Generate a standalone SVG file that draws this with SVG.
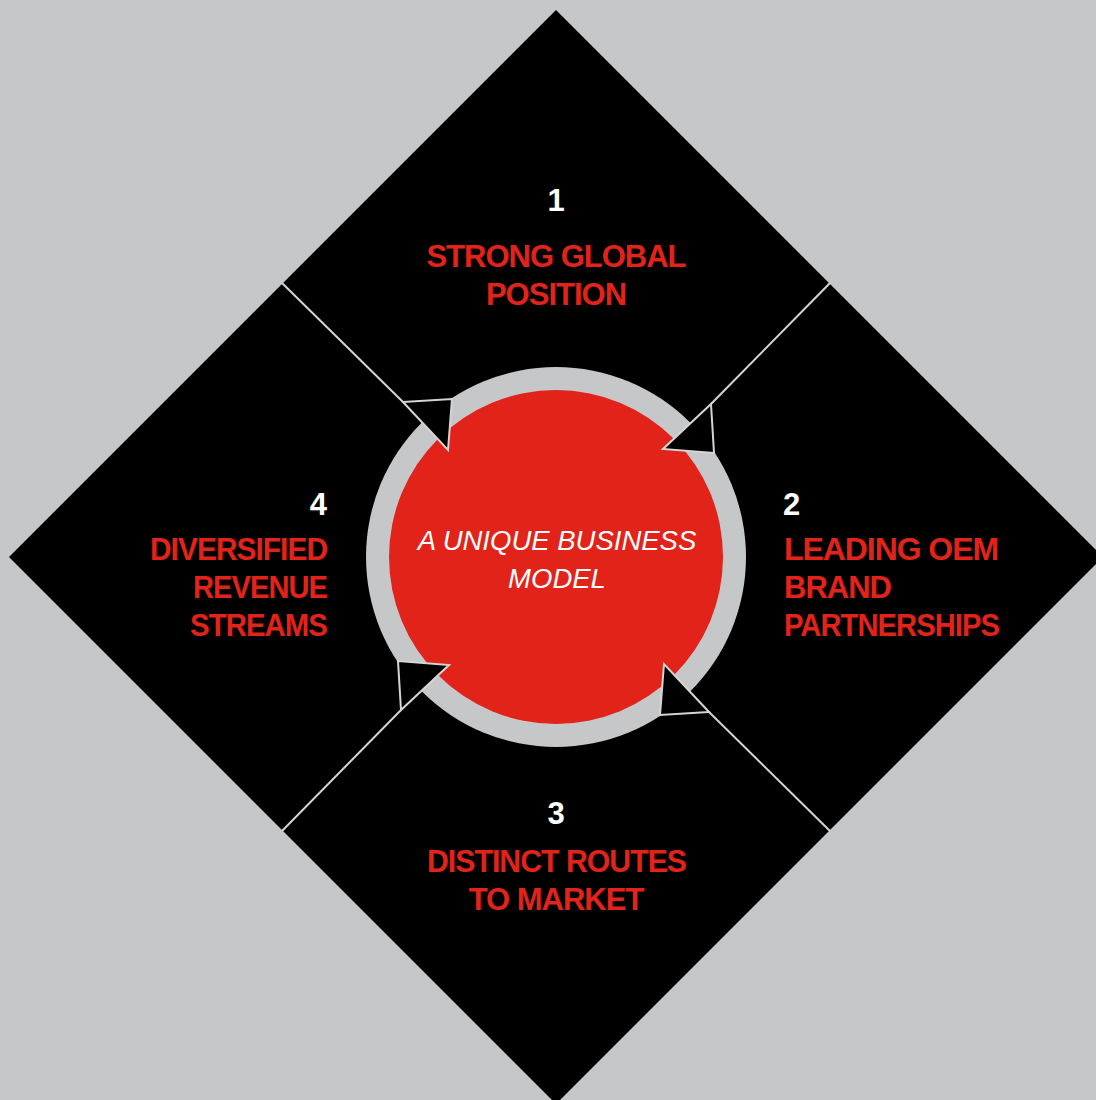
<svg xmlns="http://www.w3.org/2000/svg" width="1096" height="1100" viewBox="0 0 1096 1100">
<style>
.num{font-family:"Liberation Sans",Arial,sans-serif;font-weight:bold;font-size:31px;fill:#ffffff}
.lbl{font-family:"Liberation Sans",Arial,sans-serif;font-weight:bold;font-size:31px;fill:#e2231a;letter-spacing:-1px}
.ctr{font-family:"Liberation Sans",Arial,sans-serif;font-style:italic;font-size:27.5px;fill:#ffffff}
.div{stroke:#d4d5d6;stroke-width:2;fill:none}
.ah{fill:#000;stroke:#d4d5d6;stroke-width:2;stroke-linejoin:miter}
</style>
<defs>
<polygon id="arrowhead" class="ah" points="403,402 452,399 448,450"/>
</defs>
<rect width="1096" height="1100" fill="#c6c7c9"/>
<g id="diamond">
<polygon points="556,10 1103,557 556,1104 9,557" fill="#000"/>
</g>
<g id="hub">
<circle cx="556" cy="557" r="190" fill="#c6c7c9"/>
<circle cx="556" cy="557" r="167" fill="#e2231a"/>
<text class="ctr" x="557" y="550" text-anchor="middle">A UNIQUE BUSINESS</text>
<text class="ctr" x="557" y="588" text-anchor="middle">MODEL</text>
</g>
<g id="connectors">
<line class="div" x1="282" y1="283" x2="403" y2="402"/>
<line class="div" x1="282" y1="283" x2="403" y2="402" transform="rotate(90 556 557)"/>
<line class="div" x1="282" y1="283" x2="403" y2="402" transform="rotate(180 556 557)"/>
<line class="div" x1="282" y1="283" x2="403" y2="402" transform="rotate(270 556 557)"/>
<use href="#arrowhead"/>
<use href="#arrowhead" transform="rotate(90 556 557)"/>
<use href="#arrowhead" transform="rotate(180 556 557)"/>
<use href="#arrowhead" transform="rotate(270 556 557)"/>
</g>
<g id="node1">
<text class="num" x="556" y="211" text-anchor="middle">1</text>
<text class="lbl" x="556" y="267" text-anchor="middle">STRONG GLOBAL</text>
<text class="lbl" x="556" y="305" text-anchor="middle">POSITION</text>
</g>
<g id="node2">
<text class="num" x="783" y="515">2</text>
<text class="lbl" x="784" y="560" textLength="214" lengthAdjust="spacingAndGlyphs">LEADING OEM</text>
<text class="lbl" x="784" y="598">BRAND</text>
<text class="lbl" x="784" y="636" textLength="215" lengthAdjust="spacingAndGlyphs">PARTNERSHIPS</text>
</g>
<g id="node3">
<text class="num" x="556" y="824" text-anchor="middle">3</text>
<text class="lbl" x="427" y="872" textLength="259" lengthAdjust="spacingAndGlyphs">DISTINCT ROUTES</text>
<text class="lbl" x="556" y="910" text-anchor="middle">TO MARKET</text>
</g>
<g id="node4">
<text class="num" x="327" y="515" text-anchor="end">4</text>
<text class="lbl" x="150" y="560" textLength="177" lengthAdjust="spacingAndGlyphs">DIVERSIFIED</text>
<text class="lbl" x="193" y="598" textLength="134" lengthAdjust="spacingAndGlyphs">REVENUE</text>
<text class="lbl" x="190" y="636" textLength="137" lengthAdjust="spacingAndGlyphs">STREAMS</text>
</g>
</svg>
